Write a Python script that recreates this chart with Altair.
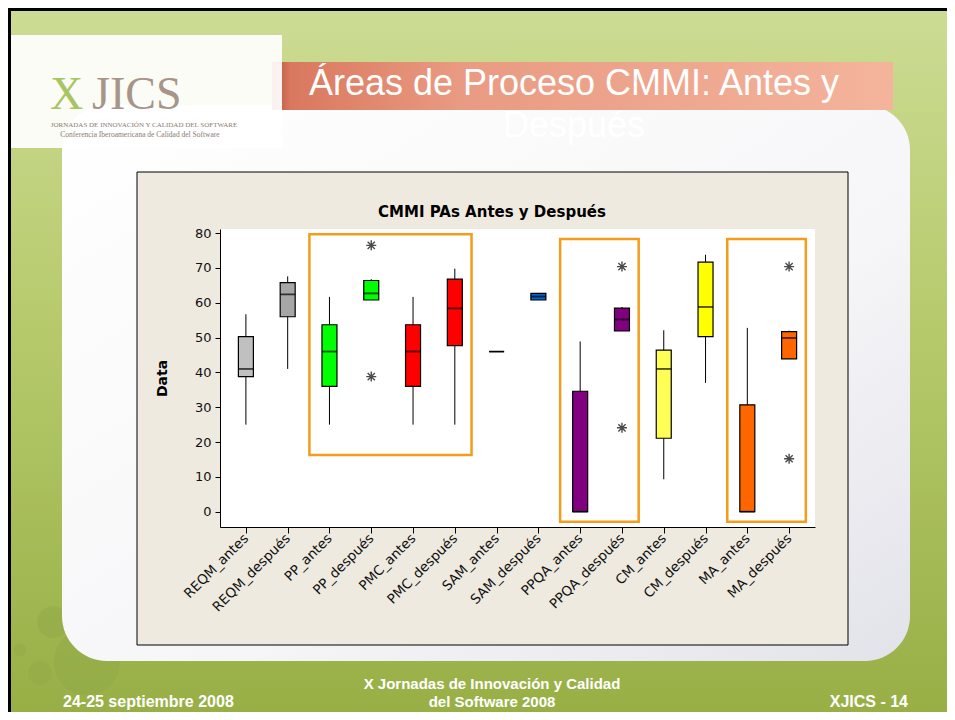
import json
import altair as alt
import pandas as pd

# ---------------- data ----------------
categories = ["REQM_antes", "REQM_después", "PP_antes", "PP_después",
              "PMC_antes", "PMC_después", "SAM_antes", "SAM_después",
              "PPQA_antes", "PPQA_después", "CM_antes", "CM_después",
              "MA_antes", "MA_después"]
whisker_low = [25, 41, 25, 61, 25, 25, 46, 61, 0, 52, 9.3, 37, 0, 44]
q1 = [38.8, 56, 36, 60.8, 36, 47.7, 46, 60.8, 0, 51.9, 21.1, 50.3, 0, 43.9]
median = [41, 62.4, 46, 62.7, 46, 58.4, 46, 61.8, 0, 55.2, 41, 58.8, 0, 49.9]
q3 = [50.3, 65.8, 53.7, 66.4, 53.7, 66.8, 46, 62.7, 34.6, 58.5, 46.4, 71.7, 30.7, 51.7]
whisker_high = [56.7, 67.6, 61.7, 66.8, 61.7, 69.8, 46, 62.7, 48.9, 58.8, 52.1, 73.8, 52.8, 52.0]
box_colors = ["#C0C0C0", "#A6A6A6", "#00FF00", "#00FF00", "#FF0000", "#FF0000",
              "#000000", "#0066CC", "#800080", "#800080", "#FFFF55", "#FFFF00",
              "#FF6600", "#FF6600"]

outlier_cat = ["PP_después", "PP_después", "PPQA_después", "PPQA_después",
               "MA_después", "MA_después"]
outlier_val = [76.5, 38.8, 70.4, 24.1, 70.4, 15.2]

# highlighted groups (orange frames): first / last category, value range
hl_start = ["PP_antes", "PPQA_antes", "MA_antes"]
hl_end = ["PMC_después", "PPQA_después", "MA_después"]
hl_low = [16.3, -2.9, -2.9]
hl_high = [79.7, 78.3, 78.3]

y_ticks = [0, 10, 20, 30, 40, 50, 60, 70, 80]

# ---------------- tables ----------------
idx = {c: i for i, c in enumerate(categories)}
box_df = pd.DataFrame({
    "cat": categories, "i": list(range(len(categories))),
    "lo": whisker_low, "q1": q1, "med": median, "q3": q3, "hi": whisker_high,
})
out_df = pd.DataFrame({"cat": outlier_cat,
                       "i": [idx[c] for c in outlier_cat],
                       "v": outlier_val})
hl_df = pd.DataFrame({
    "x0": [idx[c] - 0.48 for c in hl_start],
    "x1": [idx[c] + 0.40 for c in hl_end],
    "y0": hl_low, "y1": hl_high,
})
one = pd.DataFrame({"a": [0]})

W, H = 595, 298
label_expr = json.dumps(categories, ensure_ascii=False) + "[datum.value]"

xs = alt.Scale(domain=[-0.5, 13.5], nice=False, zero=False)
ys = alt.Scale(domain=[-4.4, 81.2], nice=False, zero=False)
color = alt.Color("cat:N", scale=alt.Scale(domain=categories, range=box_colors), legend=None)

X_axis = alt.Axis(
    values=list(range(len(categories))), labelExpr=label_expr, title=None,
    labelAngle=-45, labelAlign="right", labelBaseline="middle",
    labelFont="DejaVu Sans", labelFontSize=13.5, labelColor="#111",
    labelOverlap=False, labelFlush=False,
    tickSize=6, tickColor="black", domainColor="black", grid=False,
    labelPadding=3, zindex=1)
Y_axis = alt.Axis(values=y_ticks, title="Data", titleFont="DejaVu Sans",
                  titleFontSize=14, titleFontWeight="bold", titleColor="black",
                  titlePadding=25, labelFont="DejaVu Sans", labelFontSize=13,
                  labelColor="#111", labelOverlap=False, labelFlush=False,
                  tickSize=5, tickColor="black", labelPadding=4,
                  domainColor="black", grid=False, zindex=1)


def X(field):
    return alt.X(field, scale=xs, axis=X_axis)


def Y(field):
    return alt.Y(field, scale=ys, axis=Y_axis)


def deco_rect(x0, x1, y0, y1, **kw):
    return alt.Chart(one).mark_rect(**kw).encode(
        x=alt.value(x0), x2=alt.value(x1), y=alt.value(y0), y2=alt.value(y1))


def deco_text(x, y, text, **kw):
    return alt.Chart(one).mark_text(**kw).encode(
        x=alt.value(x), y=alt.value(y), text=alt.value(text))


def deco_circle(x, y, size):
    return alt.Chart(one).mark_circle(color="#93AA48", opacity=0.6).encode(
        x=alt.value(x), y=alt.value(y), size=alt.value(size))


bg = deco_rect(-212, 727, -221, 483, color=alt.Gradient(
    gradient="linear", x1=0, x2=0, y1=0, y2=1,
    stops=[alt.GradientStop(color="#CCDC94", offset=0),
           alt.GradientStop(color="#B6CA6C", offset=0.45),
           alt.GradientStop(color="#98AF46", offset=1)]))
blobs = [deco_circle(-167, 393, 1000), deco_circle(-133, 433, 4400),
         deco_circle(-200, 421, 150), deco_circle(-180, 444, 550)]
panel = deco_rect(-158, 690, -124, 432, cornerRadius=45, color=alt.Gradient(
    gradient="linear", x1=0, x2=1, y1=0, y2=1,
    stops=[alt.GradientStop(color="#FFFFFF", offset=0),
           alt.GradientStop(color="#F6F6F8", offset=0.6),
           alt.GradientStop(color="#E2E2EA", offset=1)]))
banner = deco_rect(52, 673, -167, -119, color=alt.Gradient(
    gradient="linear", x1=0, x2=1, y1=0, y2=0,
    stops=[alt.GradientStop(color="#B5543C", offset=0),
           alt.GradientStop(color="#D9785E", offset=0.03),
           alt.GradientStop(color="#E99A82", offset=0.3),
           alt.GradientStop(color="#F4B49C", offset=1)]))
card = deco_rect(-212, 62, -194, -81, color="#FFFFFF", opacity=0.92)
frame = deco_rect(-83, 628, -57, 416, color="#EEEAE0", stroke="black", strokeWidth=1)
plot_bg = deco_rect(0, W, 0, H, color="white")
edge_top = deco_rect(-212, 727, -221, -218, color="black")
edge_left = deco_rect(-212, -209, -221, 483, color="black")

title_font = "Liberation Sans"
slide_title1 = deco_text(354, -145, "Áreas de Proceso CMMI: Antes y", font=title_font,
                         fontSize=36, color="white", align="center")
slide_title2 = deco_text(354, -103, "Después", font=title_font,
                         fontSize=36, color="white", align="center")
logo_x = deco_text(-170, -134, "X", font="Liberation Serif", fontSize=46,
                   color="#A8C463", align="left")
logo_j = deco_text(-128, -134, "JICS", font="Liberation Serif", fontSize=46,
                   color="#A8958A", align="left")
logo_s1 = deco_text(-76, -104, "JORNADAS DE INNOVACIÓN Y CALIDAD DEL SOFTWARE",
                    font="Liberation Serif", fontSize=7, color="#8A7A70", align="center")
logo_s2 = deco_text(-80, -94, "Conferencia Iberoamericana de Calidad del Software",
                    font="Liberation Serif", fontSize=7.5, color="#8A7A70", align="center")

chart_title = deco_text(272, -17, "CMMI PAs Antes y Después", font="DejaVu Sans",
                        fontSize=15, fontWeight="bold", color="black", align="center")

foot_font = "Liberation Sans"
foot1 = deco_text(-157, 473, "24-25 septiembre 2008", font=foot_font, fontSize=16,
                  fontWeight="bold", color="white", align="left")
foot2 = deco_text(272, 455, "X Jornadas de Innovación y Calidad", font=foot_font,
                  fontSize=15, fontWeight="bold", color="white", align="center")
foot3 = deco_text(272, 473, "del Software 2008", font=foot_font, fontSize=15,
                  fontWeight="bold", color="white", align="center")
foot4 = deco_text(688, 473, "XJICS - 14", font=foot_font, fontSize=16,
                  fontWeight="bold", color="white", align="right")

# ---------------- boxplot ----------------
base = alt.Chart(box_df)
whisk = base.mark_rule(color="black", strokeWidth=1).encode(
    x=X("i:Q"), y=Y("lo:Q"), y2="hi:Q")
box = base.mark_bar(size=15, stroke="black", strokeWidth=1.2).encode(
    x=X("i:Q"), y=Y("q1:Q"), y2="q3:Q", color=color)
med = base.mark_tick(orient="horizontal", size=15, thickness=1.8, color="black").encode(
    x=X("i:Q"), y=Y("med:Q"))
ast = "M-1,0L1,0M0,-1L0,1M-0.72,-0.72L0.72,0.72M-0.72,0.72L0.72,-0.72"
outl = alt.Chart(out_df).mark_point(shape=ast, size=100, filled=False,
                                    color="black", strokeWidth=1.4).encode(
    x=X("i:Q"), y=Y("v:Q"))
hl = alt.Chart(hl_df).mark_rect(fillOpacity=0, stroke="#F59C1A", strokeWidth=2.5).encode(
    x=X("x0:Q"), x2="x1:Q", y=Y("y0:Q"), y2="y1:Q")

chart = alt.layer(
    bg, *blobs, panel, banner, card, edge_top, edge_left,
    slide_title1, slide_title2, logo_x, logo_j, logo_s1, logo_s2,
    frame, plot_bg, chart_title, foot1, foot2, foot3, foot4,
    hl, whisk, box, med, outl,
).properties(
    width=W, height=H,
    autosize=alt.AutoSizeParams(type="none"),
    padding={"left": 212, "top": 221, "right": 132, "bottom": 185},
).configure_view(stroke="black", strokeWidth=1)

chart.save("out.html", embed_options={"renderer": "svg", "actions": False})
